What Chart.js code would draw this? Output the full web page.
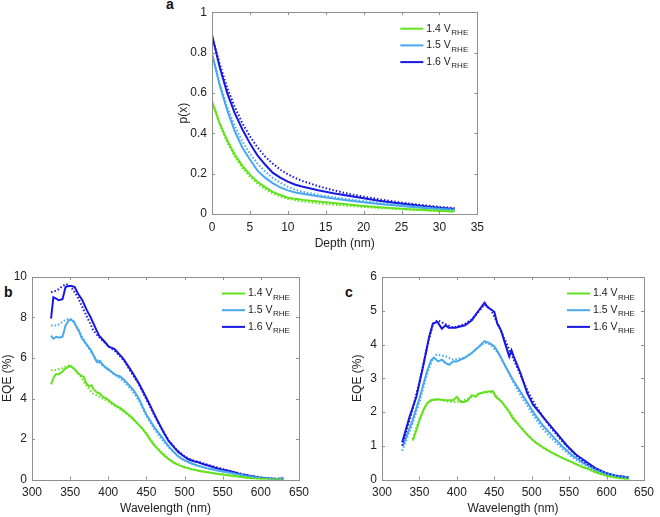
<!DOCTYPE html>
<html>
<head>
<meta charset="utf-8">
<script src="https://cdn.jsdelivr.net/npm/chart.js@4.4.0/dist/chart.umd.min.js"></script>
<style>
  html, body { margin: 0; padding: 0; background: #fff; }
  body { width: 660px; height: 517px; position: relative; overflow: hidden; font-family: "Liberation Sans", Arial, sans-serif; }
  canvas { position: absolute; }
  .tag { position: absolute; font-weight: bold; font-size: 14px; line-height: 1; color: #111; }
</style>
</head>
<body>
<div class="tag" style="left:166px;top:-3px">a</div>
<div class="tag" style="left:4px;top:285px">b</div>
<div class="tag" style="left:345px;top:285px">c</div>
<canvas id="chart-a" width="340" height="252" style="left:150px;top:0px"></canvas>
<canvas id="chart-b" width="315" height="255" style="left:0px;top:262px"></canvas>
<canvas id="chart-c" width="320" height="255" style="left:340px;top:262px"></canvas>
<script>
// ====== DATA ======
const legendVolts = ["1.4 V", "1.5 V", "1.6 V"];
const legendSub = "RHE";

// panel a : p(x) vs depth
const depthNm = [0, 1, 2, 3, 4, 5, 6, 7, 8, 9, 10, 11, 12, 14, 16, 18, 20, 22, 24, 26, 28, 30, 32];
const p14Meas = [0.56, 0.45, 0.365, 0.295, 0.24, 0.195, 0.16, 0.133, 0.11, 0.094, 0.081, 0.075, 0.07, 0.062, 0.054, 0.047, 0.04, 0.034, 0.029, 0.024, 0.02, 0.016, 0.013];
const p14Fit  = [0.56, 0.445, 0.355, 0.285, 0.228, 0.185, 0.15, 0.123, 0.102, 0.087, 0.076, 0.068, 0.062, 0.053, 0.046, 0.04, 0.035, 0.03, 0.026, 0.022, 0.018, 0.015, 0.012];
const p15Meas = [0.795, 0.64, 0.515, 0.41, 0.33, 0.27, 0.215, 0.18, 0.153, 0.132, 0.117, 0.107, 0.1, 0.088, 0.077, 0.067, 0.058, 0.05, 0.043, 0.036, 0.03, 0.025, 0.02];
const p15Fit  = [0.795, 0.65, 0.53, 0.435, 0.36, 0.3, 0.25, 0.21, 0.18, 0.155, 0.135, 0.12, 0.11, 0.095, 0.083, 0.073, 0.064, 0.055, 0.047, 0.04, 0.034, 0.028, 0.023];
const p16Meas = [0.886, 0.73, 0.6, 0.5, 0.42, 0.35, 0.29, 0.245, 0.205, 0.18, 0.16, 0.145, 0.135, 0.118, 0.103, 0.09, 0.078, 0.066, 0.056, 0.047, 0.039, 0.031, 0.025];
const p16Fit  = [0.886, 0.745, 0.625, 0.53, 0.45, 0.385, 0.33, 0.285, 0.25, 0.22, 0.197, 0.178, 0.163, 0.138, 0.118, 0.1, 0.086, 0.073, 0.062, 0.052, 0.043, 0.035, 0.029];

// panel b : EQE vs wavelength
const b14MeasWl  = [325, 328, 331, 335, 339, 343, 347, 350, 354, 357, 360, 364, 368, 371, 375, 378, 381, 385, 389, 392, 395, 398, 402, 406, 410, 415, 420, 425, 430, 435, 440, 445, 450, 455, 460, 465, 470, 475, 480, 485, 490, 500, 510, 520, 530, 540, 550, 560, 570, 580, 590, 600, 610, 620, 630];
const b14MeasEqe = [4.7, 5.0, 5.2, 5.2, 5.3, 5.45, 5.55, 5.6, 5.5, 5.4, 5.25, 5.15, 5.05, 4.75, 4.6, 4.65, 4.45, 4.3, 4.25, 4.1, 4.05, 4.0, 3.85, 3.75, 3.65, 3.55, 3.4, 3.25, 3.1, 2.9, 2.7, 2.5, 2.25, 1.95, 1.7, 1.5, 1.3, 1.12, 0.98, 0.85, 0.75, 0.6, 0.5, 0.42, 0.36, 0.3, 0.25, 0.2, 0.15, 0.1, 0.06, 0.03, 0.02, 0.01, 0.0];
const b14FitWl   = [325, 330, 335, 340, 345, 350, 355, 360, 365, 370, 375, 380, 385, 390, 395, 400, 410, 420, 430, 440, 450, 460, 470, 480, 490, 500, 510, 520, 530, 540, 550, 560, 570, 580, 590, 600, 610, 620, 630];
const b14FitEqe  = [5.4, 5.4, 5.45, 5.5, 5.6, 5.65, 5.5, 5.3, 5.0, 4.7, 4.45, 4.25, 4.15, 4.05, 3.95, 3.85, 3.6, 3.35, 3.05, 2.7, 2.25, 1.75, 1.35, 1.0, 0.78, 0.62, 0.5, 0.42, 0.36, 0.3, 0.25, 0.2, 0.15, 0.1, 0.06, 0.03, 0.02, 0.01, 0.0];
const b15MeasWl  = [325, 328, 332, 336, 340, 344, 348, 351, 355, 358, 362, 365, 369, 373, 377, 381, 385, 389, 392, 396, 400, 405, 410, 415, 420, 425, 430, 435, 440, 445, 450, 455, 460, 465, 470, 475, 480, 485, 490, 495, 500, 510, 520, 530, 540, 550, 560, 570, 580, 590, 600, 610, 620, 630];
const b15MeasEqe = [7.1, 6.95, 7.05, 7.0, 7.05, 7.6, 7.85, 7.9, 7.8, 7.55, 7.3, 7.0, 6.8, 6.6, 6.4, 6.1, 5.8, 5.85, 5.7, 5.55, 5.45, 5.3, 5.15, 5.1, 4.95, 4.75, 4.55, 4.3, 4.0, 3.6, 3.2, 2.9, 2.6, 2.35, 2.1, 1.85, 1.6, 1.4, 1.2, 1.05, 0.95, 0.78, 0.65, 0.55, 0.47, 0.4, 0.33, 0.26, 0.19, 0.13, 0.08, 0.05, 0.03, 0.02];
const b15FitWl   = [325, 330, 335, 340, 345, 350, 355, 360, 365, 370, 375, 380, 385, 390, 400, 410, 420, 430, 440, 450, 460, 470, 480, 490, 500, 510, 520, 530, 540, 550, 560, 570, 580, 590, 600, 610, 620, 630];
const b15FitEqe  = [7.6, 7.6, 7.65, 7.8, 7.9, 7.95, 7.75, 7.45, 7.1, 6.75, 6.45, 6.15, 5.9, 5.7, 5.4, 5.15, 4.85, 4.45, 3.9, 3.15, 2.5, 2.0, 1.55, 1.2, 0.95, 0.78, 0.65, 0.55, 0.47, 0.4, 0.33, 0.26, 0.19, 0.13, 0.08, 0.05, 0.03, 0.02];
const b16MeasWl  = [325, 328, 331, 335, 340, 344, 348, 352, 356, 360, 366, 372, 377, 383, 388, 394, 401, 408, 414, 420, 427, 433, 440, 447, 453, 460, 466, 473, 479, 486, 492, 499, 505, 512, 518, 525, 533, 540, 548, 555, 562, 570, 577, 583, 590, 597, 605, 612, 620, 627, 630];
const b16MeasEqe = [7.95, 9.0, 8.95, 8.85, 8.9, 9.5, 9.55, 9.55, 9.5, 9.2, 8.85, 8.35, 8.0, 7.5, 7.1, 6.85, 6.55, 6.45, 6.2, 5.95, 5.55, 5.2, 4.75, 4.25, 3.8, 3.25, 2.8, 2.3, 1.9, 1.6, 1.35, 1.15, 1.0, 0.9, 0.85, 0.75, 0.67, 0.58, 0.5, 0.45, 0.38, 0.3, 0.23, 0.2, 0.15, 0.1, 0.08, 0.05, 0.03, 0.05, 0.04];
const b16FitWl   = [325, 330, 335, 340, 345, 350, 355, 360, 365, 370, 375, 380, 385, 390, 400, 410, 420, 430, 440, 450, 460, 470, 480, 490, 500, 510, 520, 530, 540, 550, 560, 570, 580, 590, 600, 610, 620, 630];
const b16FitEqe  = [9.25, 9.3, 9.4, 9.55, 9.65, 9.55, 9.3, 9.0, 8.6, 8.2, 7.8, 7.4, 7.15, 6.95, 6.6, 6.3, 5.9, 5.3, 4.7, 3.95, 3.2, 2.5, 1.9, 1.45, 1.15, 0.95, 0.85, 0.73, 0.62, 0.52, 0.42, 0.32, 0.23, 0.16, 0.1, 0.06, 0.04, 0.03];

// panel c : EQE vs wavelength
const c14MeasWl  = [341, 345, 350, 355, 360, 365, 375, 385, 395, 400, 405, 410, 415, 420, 425, 430, 440, 448, 452, 460, 470, 475, 485, 495, 505, 515, 525, 540, 555, 570, 575, 585, 600, 615, 630];
const c14MeasEqe = [1.15, 1.4, 1.75, 2.05, 2.25, 2.35, 2.38, 2.35, 2.35, 2.45, 2.3, 2.3, 2.35, 2.5, 2.45, 2.55, 2.6, 2.62, 2.45, 2.3, 2.0, 1.8, 1.55, 1.3, 1.1, 0.95, 0.82, 0.65, 0.5, 0.35, 0.33, 0.22, 0.12, 0.05, 0.0];
const c14FitWl   = [341, 350, 360, 370, 380, 390, 400, 410, 420, 430, 440, 450, 460, 470, 480, 490, 500, 510, 520, 530, 545, 560, 575, 590, 605, 620, 630];
const c14FitEqe  = [1.2, 1.8, 2.25, 2.38, 2.35, 2.3, 2.3, 2.35, 2.45, 2.55, 2.6, 2.55, 2.3, 2.0, 1.7, 1.45, 1.2, 1.02, 0.88, 0.76, 0.6, 0.45, 0.3, 0.17, 0.08, 0.03, 0.0];
const c15MeasWl  = [328, 340, 350, 360, 366, 370, 375, 380, 385, 390, 395, 400, 405, 410, 420, 430, 437, 443, 450, 457, 465, 475, 485, 495, 505, 515, 525, 540, 555, 570, 585, 600, 615, 630];
const c15MeasEqe = [1.0, 1.7, 2.4, 3.2, 3.55, 3.6, 3.5, 3.55, 3.45, 3.4, 3.5, 3.5, 3.55, 3.6, 3.75, 3.95, 4.1, 4.05, 3.95, 3.7, 3.35, 2.95, 2.6, 2.25, 1.9, 1.6, 1.35, 1.0, 0.7, 0.48, 0.3, 0.17, 0.1, 0.06];
const c15FitWl   = [327, 340, 350, 360, 368, 373, 385, 395, 410, 420, 430, 437, 445, 455, 465, 475, 485, 495, 505, 515, 525, 540, 555, 570, 585, 600, 615, 630];
const c15FitEqe  = [0.85, 1.6, 2.3, 3.1, 3.6, 3.7, 3.65, 3.55, 3.6, 3.75, 3.95, 4.05, 4.0, 3.75, 3.35, 2.9, 2.5, 2.15, 1.8, 1.5, 1.25, 0.93, 0.65, 0.43, 0.27, 0.15, 0.08, 0.04];
const c16MeasWl  = [327, 337, 346, 354, 363, 368, 374, 380, 385, 389, 398, 411, 420, 428, 437, 441, 450, 454, 459, 463, 470, 473, 476, 485, 494, 502, 511, 520, 533, 546, 559, 572, 585, 598, 611, 624, 630];
const c16MeasEqe = [1.1, 1.87, 2.46, 3.25, 4.23, 4.62, 4.67, 4.47, 4.57, 4.5, 4.5, 4.57, 4.72, 4.97, 5.24, 5.11, 4.97, 4.62, 4.42, 4.13, 3.64, 3.83, 3.64, 3.15, 2.56, 2.21, 1.97, 1.72, 1.38, 1.03, 0.74, 0.54, 0.34, 0.2, 0.12, 0.08, 0.05];
const c16FitWl   = [327, 340, 350, 360, 368, 374, 385, 395, 410, 420, 430, 437, 445, 455, 465, 475, 485, 495, 505, 515, 525, 540, 555, 570, 585, 600, 615, 630];
const c16FitEqe  = [1.0, 2.0, 2.9, 3.9, 4.6, 4.72, 4.6, 4.5, 4.6, 4.75, 5.0, 5.18, 5.05, 4.6, 4.1, 3.6, 3.1, 2.6, 2.2, 1.85, 1.55, 1.15, 0.8, 0.52, 0.32, 0.18, 0.1, 0.05];

// ====== STYLE ======
const GREEN = "#62e21e";
const LBLUE = "#48a8ee";
const DBLUE = "#1818e0";
const AXIS_COLOR = "#8e8e8e";
const TEXT_COLOR = "#222";
const FONT = "'Liberation Sans', Arial, sans-serif";

function pts(xs, ys) {
    return xs.map((x, i) => ({ x: x, y: ys[i] }));
}

function solid(color, xs, ys) {
    return { data: pts(xs, ys), borderColor: color, borderWidth: 2, pointRadius: 0, tension: 0, order: 1 };
}

function dotted(color, xs, ys) {
    return { data: pts(xs, ys), borderColor: color, borderWidth: 2, borderDash: [1.5, 2], pointRadius: 0, tension: 0, order: 0 };
}

// matlab style labels: 1 not 1.0
const tickText = v => String(Math.round(v * 100) / 100);

// box round the plot + inward ticks on all four sides
const boxTicks = {
    id: "boxTicks",
    afterDatasetsDraw(chart) {
        const { ctx, chartArea: a, scales } = chart;
        const len = 3;
        ctx.save();
        ctx.strokeStyle = AXIS_COLOR;
        ctx.lineWidth = 1;
        ctx.beginPath();
        scales.x.ticks.forEach(t => {
            const px = Math.round(scales.x.getPixelForValue(t.value)) + 0.5;
            ctx.moveTo(px, a.bottom); ctx.lineTo(px, a.bottom - len);
            ctx.moveTo(px, a.top); ctx.lineTo(px, a.top + len);
        });
        scales.y.ticks.forEach(t => {
            const py = Math.round(scales.y.getPixelForValue(t.value)) + 0.5;
            ctx.moveTo(a.left, py); ctx.lineTo(a.left + len, py);
            ctx.moveTo(a.right, py); ctx.lineTo(a.right - len, py);
        });
        ctx.stroke();
        ctx.strokeRect(Math.round(a.left) + 0.5, Math.round(a.top) + 0.5,
            Math.round(a.right - a.left), Math.round(a.bottom - a.top));
        ctx.restore();
    }
};

// legend with subscript RHE, inside the top right corner
const rheLegend = {
    id: "rheLegend",
    afterDraw(chart) {
        const { ctx, chartArea: a } = chart;
        const colors = [GREEN, LBLUE, DBLUE];
        ctx.save();
        legendVolts.forEach((label, i) => {
            const y = a.top + 16.5 + i * 16.7;
            ctx.strokeStyle = colors[i];
            ctx.lineWidth = 2;
            ctx.beginPath();
            ctx.moveTo(a.right - 77, y);
            ctx.lineTo(a.right - 54, y);
            ctx.stroke();
            ctx.fillStyle = TEXT_COLOR;
            ctx.textBaseline = "middle";
            ctx.textAlign = "left";
            ctx.font = "10.5px " + FONT;
            ctx.fillText(label, a.right - 51, y);
            const w = ctx.measureText(label).width;
            ctx.font = "8px " + FONT;
            ctx.fillText(legendSub, a.right - 51 + w + 0.5, y + 4);
        });
        ctx.restore();
    }
};

function makePanel(id, o) {
    const ctx = document.getElementById(id).getContext("2d");
    return new Chart(ctx, {
        type: "line",
        data: { datasets: o.datasets },
        options: {
            responsive: false,
            animation: false,
            devicePixelRatio: 1,
            layout: { padding: { top: o.padTop, right: o.padRight, left: 0, bottom: 0 } },
            plugins: { legend: { display: false }, tooltip: { enabled: false } },
            scales: {
                x: {
                    type: "linear", min: o.xMin, max: o.xMax,
                    ticks: { stepSize: o.xStep, color: TEXT_COLOR, font: { family: FONT, size: 12 }, padding: 6, maxRotation: 0, autoSkip: false, callback: tickText },
                    grid: { display: false, drawTicks: false },
                    border: { display: false },
                    title: { display: true, text: o.xTitle, color: TEXT_COLOR, font: { family: FONT, size: 12 }, padding: { top: 0, bottom: o.xTitlePad } },
                    afterFit: s => { s.height = o.xHeight; }
                },
                y: {
                    min: o.yMin, max: o.yMax,
                    ticks: { stepSize: o.yStep, color: TEXT_COLOR, font: { family: FONT, size: 12 }, padding: 5, callback: tickText },
                    grid: { display: false, drawTicks: false },
                    border: { display: false },
                    title: { display: true, text: o.yTitle, color: TEXT_COLOR, font: { family: FONT, size: 12 }, padding: { top: o.yTitlePad, bottom: 0 } },
                    afterFit: s => { s.width = o.yWidth; }
                }
            }
        },
        plugins: [boxTicks, rheLegend]
    });
}

makePanel("chart-a", {
    datasets: [
        solid(GREEN, depthNm, p14Meas), solid(LBLUE, depthNm, p15Meas), solid(DBLUE, depthNm, p16Meas),
        dotted(GREEN, depthNm, p14Fit), dotted(LBLUE, depthNm, p15Fit), dotted(DBLUE, depthNm, p16Fit)
    ],
    xMin: 0, xMax: 35, xStep: 5, yMin: 0, yMax: 1, yStep: 0.2,
    xTitle: "Depth (nm)", yTitle: "p(x)",
    padTop: 12, padRight: 11, yWidth: 62, xHeight: 38,
    yTitlePad: 26, xTitlePad: 1
});

makePanel("chart-b", {
    datasets: [
        solid(GREEN, b14MeasWl, b14MeasEqe), solid(LBLUE, b15MeasWl, b15MeasEqe), solid(DBLUE, b16MeasWl, b16MeasEqe),
        dotted(GREEN, b14FitWl, b14FitEqe), dotted(LBLUE, b15FitWl, b15FitEqe), dotted(DBLUE, b16FitWl, b16FitEqe)
    ],
    xMin: 300, xMax: 650, xStep: 50, yMin: 0, yMax: 10, yStep: 2,
    xTitle: "Wavelength (nm)", yTitle: "EQE (%)",
    padTop: 15, padRight: 15, yWidth: 32, xHeight: 37.5,
    yTitlePad: 0, xTitlePad: 1
});

makePanel("chart-c", {
    datasets: [
        solid(GREEN, c14MeasWl, c14MeasEqe), solid(LBLUE, c15MeasWl, c15MeasEqe), solid(DBLUE, c16MeasWl, c16MeasEqe),
        dotted(GREEN, c14FitWl, c14FitEqe), dotted(LBLUE, c15FitWl, c15FitEqe), dotted(DBLUE, c16FitWl, c16FitEqe)
    ],
    xMin: 300, xMax: 650, xStep: 50, yMin: 0, yMax: 6, yStep: 1,
    xTitle: "Wavelength (nm)", yTitle: "EQE (%)",
    padTop: 15, padRight: 10, yWidth: 42, xHeight: 37.5,
    yTitlePad: 10, xTitlePad: 1
});
</script>
</body>
</html>
